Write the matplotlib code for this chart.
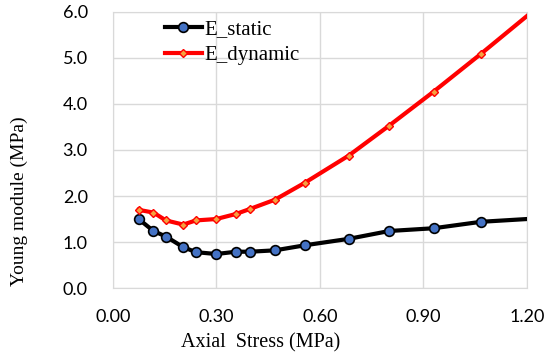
import matplotlib.pyplot as plt

# Data
stress = [0.075, 0.118, 0.154, 0.204, 0.241, 0.300, 0.357, 0.398, 0.470,
          0.557, 0.684, 0.801, 0.930, 1.067, 1.200]
e_static = [1.50, 1.24, 1.12, 0.89, 0.78, 0.74, 0.79, 0.79, 0.82,
            0.93, 1.07, 1.24, 1.30, 1.44, 1.50]
e_dynamic = [1.70, 1.64, 1.47, 1.38, 1.47, 1.50, 1.61, 1.72, 1.92,
             2.29, 2.88, 3.53, 4.27, 5.09, 5.91]

xticks = [0.00, 0.30, 0.60, 0.90, 1.20]
yticks = [0.0, 1.0, 2.0, 3.0, 4.0, 5.0, 6.0]

fig = plt.figure(figsize=(5.5, 3.61), dpi=100)
ax = fig.add_axes([0.205, 0.202, 0.753, 0.765])

# markers only on the measured points, last point is the edge
marks = slice(0, len(stress) - 1)
ax.plot(stress, e_static, color='black', lw=3, marker='o', ms=7,
        mfc='#4472C4', mec='black', mew=1.2, markevery=marks,
        label='E_static', zorder=3)
ax.plot(stress, e_dynamic, color='#FF0000', lw=3, marker='D', ms=4.5,
        mfc='#F4A040', mec='#FF0000', mew=1, markevery=marks,
        label='E_dynamic', zorder=3)

ax.set_xlim(0, 1.2)
ax.set_ylim(0, 6)
ax.set_xticks(xticks)
ax.set_yticks(yticks)
ax.set_xticklabels([f'{t:.2f}' for t in xticks], family='Lato', fontsize=13)
ax.set_yticklabels([f'{t:.1f}' for t in yticks], family='Lato', fontsize=13)
ax.tick_params(axis='x', length=0, pad=15)
ax.tick_params(axis='y', length=0, pad=18)
ax.grid(color='#d9d9d9', lw=1)
for s in ax.spines.values():
    s.set_color('#d9d9d9')

ax.set_xlabel('Axial  Stress (MPa)', family='Liberation Serif', fontsize=14.5)
ax.set_ylabel('Young module (MPa)', family='Liberation Serif', fontsize=14)
ax.xaxis.set_label_coords(0.356, -0.163)
ax.yaxis.set_label_coords(-0.205, 0.315)

ax.legend(loc='upper left', bbox_to_anchor=(0.08, 1.04), frameon=False,
          prop={'family': 'Liberation Serif', 'size': 15},
          handlelength=1.8, handletextpad=0.1, labelspacing=0.32)

fig.savefig('out.png', dpi=100)
